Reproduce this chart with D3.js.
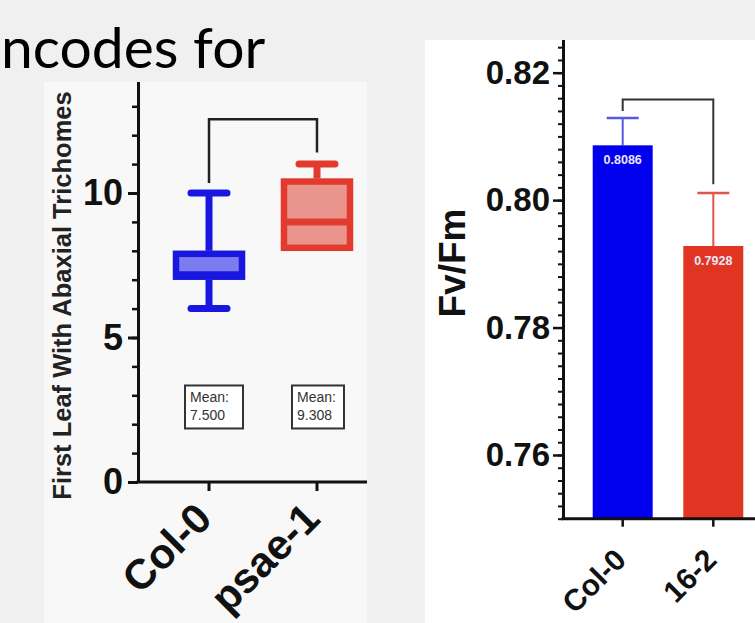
<!DOCTYPE html>
<html>
<head>
<meta charset="utf-8">
<script src="https://cdn.jsdelivr.net/npm/d3@7"></script>
<style>
  body { margin: 0; background: #f0f0f0; }
  svg { display: block; }
</style>
</head>
<body>
<svg id="chart" width="755" height="623"></svg>
<script>
// box plot panel (left)
const boxGroups = ["Col-0", "psae-1"];
const boxMin = [6, 8];
const boxQ1 = [7, 8];
const boxMedian = [7, 9];
const boxQ3 = [8, 10.5];
const boxMax = [10, 11];
const boxMeans = [7.5, 9.308];
const boxTicks = [0, 5, 10];
const boxBracketEnds = [10.35, 11.4];
const boxBracketTop = 12.55;

// bar panel (right)
const barGroups = ["Col-0", "16-2"];
const barValues = [0.8086, 0.7928];
const barErrTop = [0.8129, 0.8011];
const barTicks = [0.76, 0.78, 0.8, 0.82];
const barBracketEnds = [0.814, 0.8025];
const barBracketTop = 0.8158;

const svg = d3.select("#chart");
const font = "Arial, 'Liberation Sans', sans-serif";

svg.append("rect").attr("width", 755).attr("height", 623).attr("fill", "#f0f0f0");

svg.append("text")
  .attr("x", 1).attr("y", 68)
  .attr("font-family", "Lato, 'Open Sans', sans-serif")
  .attr("font-size", 57)
  .attr("fill", "#000")
  .text("ncodes for");

const defs = svg.append("defs");
defs.append("clipPath").attr("id", "clipL")
  .append("rect").attr("x", 44).attr("y", 82).attr("width", 323).attr("height", 541);
defs.append("clipPath").attr("id", "clipR")
  .append("rect").attr("x", 425).attr("y", 40).attr("width", 330).attr("height", 583);

// ---------- left panel ----------
const L = svg.append("g").attr("clip-path", "url(#clipL)");
L.append("rect").attr("x", 44).attr("y", 82).attr("width", 323).attr("height", 541).attr("fill", "#f8f8f8");

const axL = 138, baseL = 482;
const yL = d3.scaleLinear().domain([0, 14]).range([baseL, baseL - 14 * 28.9]);
const xL = d3.scaleBand().domain(boxGroups).range([155, 371]).paddingInner(0.333).paddingOuter(0.1667);
const boxColor = ["#1717e0", "#e23a2e"];
const boxFill = ["#7c7cf0", "#e9958d"];

// minor ticks
L.append("g").attr("transform", `translate(${axL},0)`)
  .call(d3.axisLeft(yL).ticks(14).tickSize(6).tickSizeOuter(0).tickFormat(""))
  .call((g) => g.selectAll("line").attr("stroke", "#111").attr("stroke-width", 2.5))
  .call((g) => g.select(".domain").remove());

L.append("g").attr("transform", `translate(${axL},0)`)
  .call(d3.axisLeft(yL).tickValues(boxTicks).tickSize(10).tickSizeOuter(0).tickPadding(5))
  .call((g) => g.select(".domain").attr("stroke", "#111").attr("stroke-width", 3))
  .call((g) => g.selectAll("line").attr("stroke", "#111").attr("stroke-width", 3))
  .call((g) => g.selectAll("text")
    .attr("font-family", font).attr("font-weight", "bold").attr("font-size", 36).attr("fill", "#111"));

L.append("line").attr("x1", axL - 1.5).attr("x2", 371).attr("y1", baseL).attr("y2", baseL)
  .attr("stroke", "#111").attr("stroke-width", 3);

const xAxL = L.append("g").attr("transform", `translate(0,${baseL})`)
  .call(d3.axisBottom(xL).tickSize(9).tickSizeOuter(0).tickPadding(0));
xAxL.select(".domain").remove();
xAxL.selectAll("line").attr("stroke", "#111").attr("stroke-width", 3);
xAxL.selectAll("text")
  .attr("font-family", font).attr("font-weight", "bold").attr("font-size", 42).attr("fill", "#111")
  .attr("text-anchor", "end")
  .attr("y", 0).attr("dy", 0)
  .attr("transform", "translate(5,39) rotate(-45)");

L.append("text")
  .attr("transform", `translate(71,${(88 + 503) / 2}) rotate(-90)`)
  .attr("text-anchor", "middle")
  .attr("font-family", font).attr("font-weight", "bold").attr("font-size", 25.5).attr("fill", "#222")
  .text("First Leaf With Abaxial Trichomes");

// bracket
const bl = xL(boxGroups[0]) + xL.bandwidth() / 2;
const br = xL(boxGroups[1]) + xL.bandwidth() / 2;
L.append("path")
  .attr("d", `M${bl},${yL(boxBracketEnds[0])}V${yL(boxBracketTop)}H${br}V${yL(boxBracketEnds[1])}`)
  .attr("fill", "none").attr("stroke", "#222").attr("stroke-width", 2.5);

boxGroups.forEach((g, i) => {
  const cx = xL(g) + xL.bandwidth() / 2;
  const bw = xL.bandwidth();
  const grp = L.append("g");
  const c = boxColor[i];
  // whiskers
  grp.append("line").attr("x1", cx).attr("x2", cx).attr("y1", yL(boxMax[i])).attr("y2", yL(boxQ3[i]))
    .attr("stroke", c).attr("stroke-width", 7);
  grp.append("line").attr("x1", cx).attr("x2", cx).attr("y1", yL(boxQ1[i])).attr("y2", yL(boxMin[i]))
    .attr("stroke", c).attr("stroke-width", 7);
  grp.append("line").attr("x1", cx - 18).attr("x2", cx + 18).attr("y1", yL(boxMax[i])).attr("y2", yL(boxMax[i]))
    .attr("stroke", c).attr("stroke-width", 7).attr("stroke-linecap", "round");
  if (boxMin[i] < boxQ1[i]) {
    grp.append("line").attr("x1", cx - 18).attr("x2", cx + 18).attr("y1", yL(boxMin[i])).attr("y2", yL(boxMin[i]))
      .attr("stroke", c).attr("stroke-width", 7).attr("stroke-linecap", "round");
  }
  // box
  grp.append("rect")
    .attr("x", cx - bw / 2 + 3).attr("width", bw - 6)
    .attr("y", yL(boxQ3[i]) + 3).attr("height", yL(boxQ1[i]) - yL(boxQ3[i]) - 6)
    .attr("fill", boxFill[i]).attr("stroke", c).attr("stroke-width", 6.5);
  // median
  grp.append("line").attr("x1", cx - bw / 2 + 3).attr("x2", cx + bw / 2 - 3)
    .attr("y1", yL(boxMedian[i]) - (boxMedian[i] === boxQ1[i] ? 5 : 0))
    .attr("y2", yL(boxMedian[i]) - (boxMedian[i] === boxQ1[i] ? 5 : 0))
    .attr("stroke", c).attr("stroke-width", 7);

  // mean label box
  const mb = L.append("g").attr("transform", `translate(${cx - 29 + (i ? 4 : 5)},${yL(3.34)})`);
  mb.append("rect").attr("width", i ? 52 : 58).attr("height", 43)
    .attr("fill", "#fff").attr("stroke", "#333").attr("stroke-width", 2);
  mb.append("text").attr("x", 5).attr("y", 17)
    .attr("font-family", font).attr("font-size", 14).attr("fill", "#333").text("Mean:");
  mb.append("text").attr("x", 5).attr("y", 35)
    .attr("font-family", font).attr("font-size", 14).attr("fill", "#333").text(boxMeans[i].toFixed(3));
});

// ---------- right panel ----------
const R = svg.append("g").attr("clip-path", "url(#clipR)");
R.append("rect").attr("x", 425).attr("y", 40).attr("width", 330).attr("height", 583).attr("fill", "#ffffff");

const axR = 563;
const yR = d3.scaleLinear().domain([0.75, 0.826]).range([518.7, 518.7 - 0.076 * 6371.7]);
const xR = d3.scaleBand().domain(barGroups).range([577.4, 758.6]).paddingInner(0.338).paddingOuter(0.169);
const barColor = ["#0000ee", "#e13523"];
const errColor = ["#5858e4", "#e0554a"];

R.append("g").attr("transform", `translate(${axR},0)`)
  .call(d3.axisLeft(yR).tickValues(d3.range(0.75, 0.8261, 0.002)).tickSize(5).tickSizeOuter(0).tickFormat(""))
  .call((g) => g.selectAll("line").attr("stroke", "#111").attr("stroke-width", 2))
  .call((g) => g.select(".domain").remove());

R.append("g").attr("transform", `translate(${axR},0)`)
  .call(d3.axisLeft(yR).tickValues(barTicks).tickSize(10).tickSizeOuter(0).tickPadding(3).tickFormat(d3.format(".2f")))
  .call((g) => g.select(".domain").attr("stroke", "#111").attr("stroke-width", 3))
  .call((g) => g.selectAll("line").attr("stroke", "#111").attr("stroke-width", 2.5))
  .call((g) => g.selectAll("text")
    .attr("font-family", font).attr("font-weight", "bold").attr("font-size", 33).attr("fill", "#111"));

R.append("text")
  .attr("transform", `translate(465,263) rotate(-90)`)
  .attr("text-anchor", "middle")
  .attr("font-family", font).attr("font-weight", "bold").attr("font-size", 37).attr("fill", "#111")
  .text("Fv/Fm");

// bars
barGroups.forEach((g, i) => {
  const x0 = xR(g), w = xR.bandwidth(), cx = x0 + w / 2;
  R.append("line").attr("x1", cx).attr("x2", cx).attr("y1", yR(barErrTop[i])).attr("y2", yR(barValues[i]))
    .attr("stroke", errColor[i]).attr("stroke-width", 2);
  R.append("line").attr("x1", cx - 16).attr("x2", cx + 16).attr("y1", yR(barErrTop[i])).attr("y2", yR(barErrTop[i]))
    .attr("stroke", errColor[i]).attr("stroke-width", 2.5);
  R.append("rect").attr("x", x0).attr("width", w)
    .attr("y", yR(barValues[i])).attr("height", yR(0.75) - yR(barValues[i]))
    .attr("fill", barColor[i]);
  R.append("text").attr("x", cx).attr("y", yR(barValues[i]) + 19)
    .attr("text-anchor", "middle")
    .attr("font-family", font).attr("font-weight", "bold").attr("font-size", 12.5).attr("fill", "#e8e8f8")
    .text(barValues[i].toFixed(4));
});

R.append("line").attr("x1", axR - 1.5).attr("x2", 755).attr("y1", yR(0.75)).attr("y2", yR(0.75))
  .attr("stroke", "#111").attr("stroke-width", 3);

const xAxR = R.append("g").attr("transform", `translate(0,${yR(0.75)})`)
  .call(d3.axisBottom(xR).tickSize(8).tickSizeOuter(0).tickPadding(0));
xAxR.select(".domain").remove();
xAxR.selectAll("line").attr("stroke", "#111").attr("stroke-width", 2.5);
xAxR.selectAll("text")
  .attr("font-family", font).attr("font-weight", "bold").attr("font-size", 30).attr("fill", "#111")
  .attr("text-anchor", "end")
  .attr("y", 0).attr("dy", 0)
  .attr("transform", "translate(5,43) rotate(-45)");

// bracket
const rl = xR(barGroups[0]) + xR.bandwidth() / 2;
const rr = xR(barGroups[1]) + xR.bandwidth() / 2;
R.append("path")
  .attr("d", `M${rl},${yR(barBracketEnds[0])}V${yR(barBracketTop)}H${rr}V${yR(barBracketEnds[1])}`)
  .attr("fill", "none").attr("stroke", "#333").attr("stroke-width", 2);
</script>
</body>
</html>
